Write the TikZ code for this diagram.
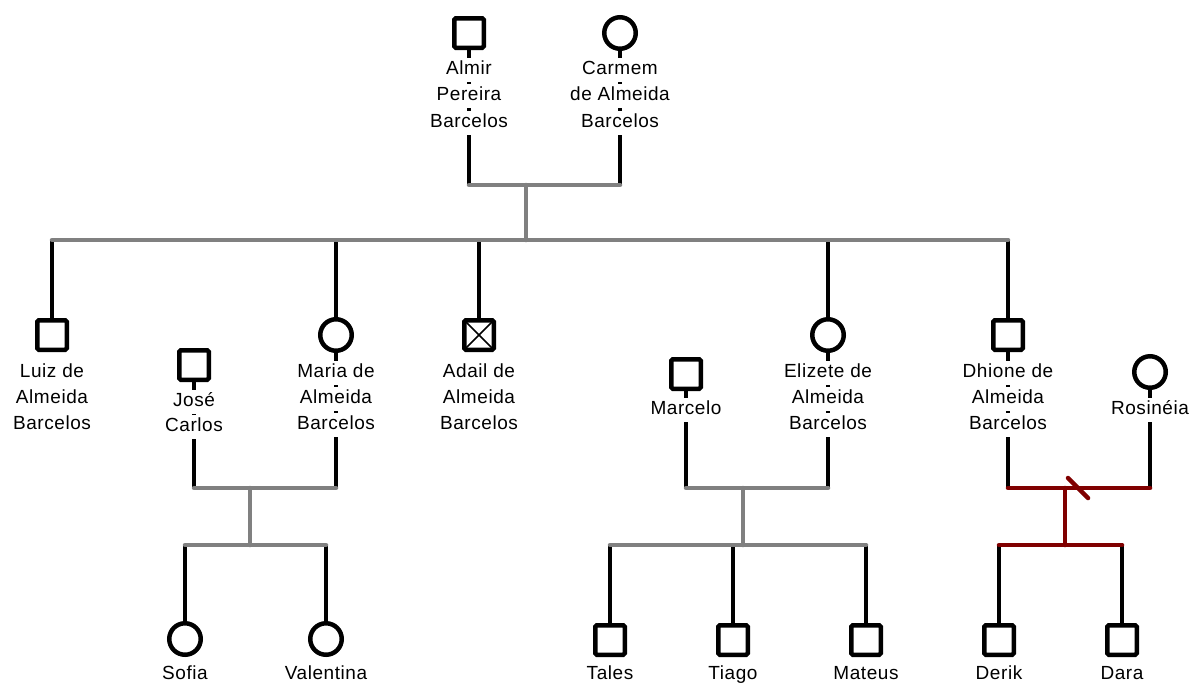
\documentclass[tikz,border=0pt]{standalone}
\usepackage{fontspec}
\setmainfont{Liberation Sans}[LetterSpace=3]
\usetikzlibrary{backgrounds}
\definecolor{kin}{HTML}{808080}
\definecolor{sepred}{HTML}{800000}
\tikzset{
  person/.style={draw=black, line width=4.5pt, fill=white, inner sep=0pt},
  male/.style={person, rectangle, rounded corners=1.5pt, minimum size=29.5pt},
  female/.style={person, circle, minimum size=31.5pt},
  deceased/.style={male, path picture={
      \draw[line width=1.6pt] (path picture bounding box.north west) -- (path picture bounding box.south east)
                               (path picture bounding box.north east) -- (path picture bounding box.south west);}},
  lbl/.style={fill=white, inner xsep=1pt, inner ysep=3.5pt, text height=13.5pt, text depth=4pt,
              font=\fontsize{19}{22}\selectfont},
  blk/.style={draw=black, line width=4.5pt},
  gry/.style={draw=kin, line width=4.5pt, line cap=round},
  red/.style={draw=sepred, line width=4.5pt, line cap=round},
}
\begin{document}
\begin{tikzpicture}[x=1pt, y=-1pt]
\useasboundingbox (0,0) rectangle (1190,686);

% ---------- generation I ----------
\node[male] (almir) at (469,33) {};
\node[lbl] (almir1) at (469,70) {Almir};
\node[lbl] (almir2) at (469,96) {Pereira};
\node[lbl] (almir3) at (469,123) {Barcelos};

\node[female] (carmem) at (620,33) {};
\node[lbl] (carmem1) at (620,70) {Carmem};
\node[lbl] (carmem2) at (620,96) {de Almeida};
\node[lbl] (carmem3) at (620,123) {Barcelos};

% ---------- generation II ----------
\node[male] (luiz) at (52,335) {};
\node[lbl] (luiz1) at (52,373) {Luiz de};
\node[lbl] (luiz2) at (52,399) {Almeida};
\node[lbl] (luiz3) at (52,425) {Barcelos};

\node[male] (jose) at (194,365) {};
\node[lbl] (jose1) at (194,402) {José};
\node[lbl] (jose2) at (194,427) {Carlos};

\node[female] (maria) at (336,335) {};
\node[lbl] (maria1) at (336,373) {Maria de};
\node[lbl] (maria2) at (336,399) {Almeida};
\node[lbl] (maria3) at (336,425) {Barcelos};

\node[deceased] (adail) at (479,335) {};
\node[lbl] (adail1) at (479,373) {Adail de};
\node[lbl] (adail2) at (479,399) {Almeida};
\node[lbl] (adail3) at (479,425) {Barcelos};

\node[male] (marcelo) at (686,374) {};
\node[lbl] (marcelo1) at (686,410) {Marcelo};

\node[female] (elizete) at (828,335) {};
\node[lbl] (elizete1) at (828,373) {Elizete de};
\node[lbl] (elizete2) at (828,399) {Almeida};
\node[lbl] (elizete3) at (828,425) {Barcelos};

\node[male] (dhione) at (1008,335) {};
\node[lbl] (dhione1) at (1008,373) {Dhione de};
\node[lbl] (dhione2) at (1008,399) {Almeida};
\node[lbl] (dhione3) at (1008,425) {Barcelos};

\node[female] (rosineia) at (1150,372) {};
\node[lbl] (rosineia1) at (1150,410) {Rosinéia};

% ---------- generation III ----------
\node[female] (sofia) at (185,639) {};
\node[lbl] (sofia1) at (185,675) {Sofia};
\node[female] (valentina) at (326,639) {};
\node[lbl] (valentina1) at (326,675) {Valentina};

\node[male] (tales) at (610,640) {};
\node[lbl] (tales1) at (610,675) {Tales};
\node[male] (tiago) at (733,640) {};
\node[lbl] (tiago1) at (733,675) {Tiago};
\node[male] (mateus) at (866,640) {};
\node[lbl] (mateus1) at (866,675) {Mateus};

\node[male] (derik) at (999,640) {};
\node[lbl] (derik1) at (999,675) {Derik};
\node[male] (dara) at (1122,640) {};
\node[lbl] (dara1) at (1122,675) {Dara};

% ---------- couple and sibship line points ----------
\coordinate (cA) at (526,185);   % Almir + Carmem
\coordinate (sA) at (526,240);
\coordinate (cB) at (250,488);   % José + Maria
\coordinate (sB) at (250,545);
\coordinate (cC) at (743,488);   % Marcelo + Elizete
\coordinate (sC) at (743,545);
\coordinate (cD) at (1065,488);  % Dhione + Rosinéia
\coordinate (sD) at (1065,545);
\coordinate (brk1) at (1068,478);
\coordinate (brk2) at (1088,498);

\begin{scope}[on background layer]
  % individual lines (behind labels)
  \draw[blk] (almir.south) -- (almir |- cA);
  \draw[blk] (carmem.south) -- (carmem |- cA);
  \draw[blk] (jose.south) -- (jose |- cB);
  \draw[blk] (maria.south) -- (maria |- cB);
  \draw[blk] (marcelo.south) -- (marcelo |- cC);
  \draw[blk] (elizete.south) -- (elizete |- cC);
  \draw[blk] (dhione.south) -- (dhione |- cD);
  \draw[blk] (rosineia.south) -- (rosineia |- cD);
  \foreach \c in {luiz,maria,adail,elizete,dhione}
    \draw[blk] (\c.north) -- (\c |- sA);
  \foreach \c in {sofia,valentina}
    \draw[blk] (\c.north) -- (\c |- sB);
  \foreach \c in {tales,tiago,mateus}
    \draw[blk] (\c.north) -- (\c |- sC);
  \foreach \c in {derik,dara}
    \draw[blk] (\c.north) -- (\c |- sD);
  % couple, descent and sibship lines
  \draw[gry] (almir |- cA) -- (carmem |- cA);
  \draw[gry] (cA) -- (sA);
  \draw[gry] (luiz |- sA) -- (dhione |- sA);
  \draw[gry] (jose |- cB) -- (maria |- cB);
  \draw[gry] (cB) -- (sB);
  \draw[gry] (sofia |- sB) -- (valentina |- sB);
  \draw[gry] (marcelo |- cC) -- (elizete |- cC);
  \draw[gry] (cC) -- (sC);
  \draw[gry] (tales |- sC) -- (mateus |- sC);
  \draw[red] (dhione |- cD) -- (rosineia |- cD);
  \draw[red] (cD) -- (sD);
  \draw[red] (derik |- sD) -- (dara |- sD);
  \draw[red] (brk1) -- (brk2);
\end{scope}
\end{tikzpicture}
\end{document}
